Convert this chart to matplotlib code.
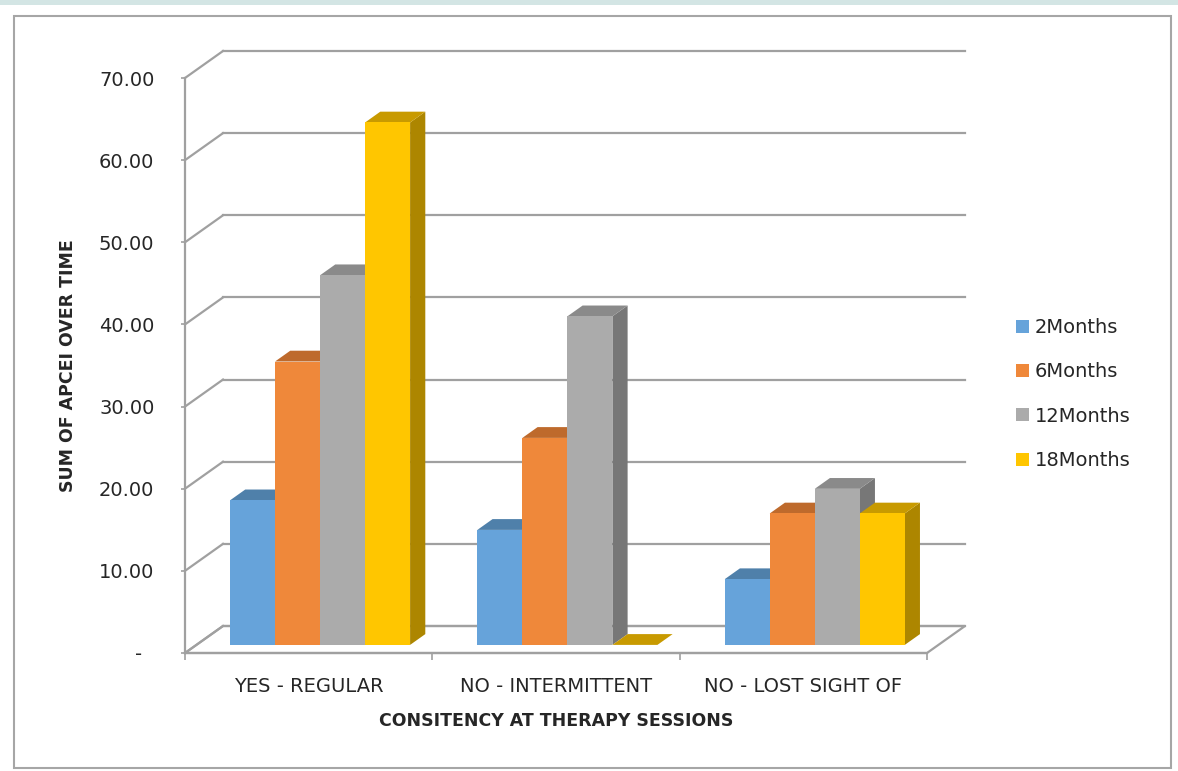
import matplotlib.pyplot as plt
from matplotlib.patches import Polygon, Rectangle, Patch

categories = ["YES - REGULAR", "NO - INTERMITTENT", "NO - LOST SIGHT OF"]
series = ["2Months", "6Months", "12Months", "18Months"]
m2 = [17.6, 14.0, 8.0]
m6 = [34.5, 25.2, 16.0]
m12 = [45.0, 40.0, 19.0]
m18 = [63.6, 0.0, 16.0]
yticks = [0, 10, 20, 30, 40, 50, 60, 70]

front = ["#66A3DA", "#EF883A", "#ABABAB", "#FFC600"]
top_c = ["#4F80AA", "#BE6A2C", "#8A8A8A", "#C89A00"]
side_c = ["#3F6E99", "#A9571F", "#777777", "#AD8600"]
grid_c = "#A0A0A0"
text_c = "#262626"

fig = plt.figure(figsize=(11.78, 7.71), dpi=100)
W, H = 1178, 771

# page decoration: top band and chart border
fig.patches.append(Rectangle((0, 1 - 5 / H), 1, 5 / H, transform=fig.transFigure,
                             facecolor="#D3E5E4", edgecolor="none"))
fig.patches.append(Rectangle((14 / W, 3 / H), 1157 / W, (752) / H, transform=fig.transFigure,
                             facecolor="none", edgecolor="#A6A6A6", lw=1.5))

ax = fig.add_axes([185 / W, (H - 653) / H, 742 / W, 575 / H])
ax.set_xlim(-0.5, 2.5)
ax.set_ylim(0, 70)
ax.patch.set_alpha(0)

# oblique depth offset (data units)
dx = 38 / 742 * 3
dy = 27 / 575 * 70

# walls: gridlines on back and side wall, floor
ax.add_patch(Polygon([(-0.5, 0), (2.5, 0), (2.5 + dx, dy), (-0.5 + dx, dy)], closed=True,
                     facecolor="white", edgecolor=grid_c, lw=1.6, zorder=1, clip_on=False))
for v in yticks:
    ax.plot([-0.5 + dx, 2.5 + dx], [v + dy, v + dy], color=grid_c, lw=1.6, zorder=1, clip_on=False)
    ax.plot([-0.5, -0.5 + dx], [v, v + dy], color=grid_c, lw=1.6, zorder=1, clip_on=False)

# 3D-looking bars
values = [m2, m6, m12, m18]
w = 0.182
gap = (1 - 4 * w) / 2
f0, depth = 0.3, 0.4
base = f0 * dy
z = 2
for i in range(len(categories)):
    for j, vals in enumerate(values):
        xl = i - 0.5 + gap + j * w + f0 * dx
        top = base + vals[i]
        ddx, ddy = depth * dx, depth * dy
        ax.add_patch(Polygon([(xl + w, base), (xl + w + ddx, base + ddy),
                              (xl + w + ddx, top + ddy), (xl + w, top)], closed=True,
                             facecolor=side_c[j], edgecolor="none", zorder=z, clip_on=False))
        ax.add_patch(Polygon([(xl, top), (xl + w, top), (xl + w + ddx, top + ddy),
                              (xl + ddx, top + ddy)], closed=True,
                             facecolor=top_c[j], edgecolor="none", zorder=z + 0.1, clip_on=False))
        ax.bar(xl, vals[i], width=w, bottom=base, align="edge", color=front[j],
               zorder=z + 0.2, clip_on=False)
        z += 1

# axes
for s in ["top", "right"]:
    ax.spines[s].set_visible(False)
for s in ["left", "bottom"]:
    ax.spines[s].set_color(grid_c)
    ax.spines[s].set_linewidth(1.6)
ax.set_yticks(yticks)
ax.set_yticklabels(["-  "] + ["%.2f" % v for v in yticks[1:]])
ax.tick_params(axis="y", length=3, width=1.2, color=grid_c, pad=19,
               labelsize=14, labelcolor=text_c)
ax.set_xticks([0, 1, 2])
ax.set_xticklabels(categories)
ax.set_xticks([-0.5, 0.5, 1.5, 2.5], minor=True)
ax.tick_params(axis="x", which="major", length=0, pad=17, labelsize=14, labelcolor=text_c)
ax.tick_params(axis="x", which="minor", length=5, width=1.2, color=grid_c)

ax.set_ylabel("SUM OF APCEI OVER TIME", fontsize=12.5, fontweight="bold", color=text_c,
              labelpad=16)
ax.set_xlabel("CONSITENCY AT THERAPY SESSIONS", fontsize=12.5, fontweight="bold",
              color=text_c, labelpad=12)

handles = [Patch(facecolor=c, edgecolor="none") for c in front]
fig.legend(handles, series, loc="center left", bbox_to_anchor=(1016 / W, (H - 394) / H),
           frameon=False, fontsize=14, handlelength=0.65, handleheight=0.65,
           handletextpad=0.3, labelspacing=1.3, borderpad=0, borderaxespad=0,
           labelcolor=text_c)

fig.savefig("out.png", dpi=100)
